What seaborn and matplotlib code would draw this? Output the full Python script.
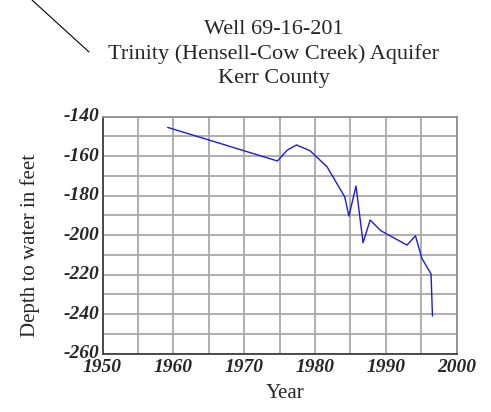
import matplotlib
matplotlib.use("Agg")
import matplotlib.pyplot as plt
import matplotlib.transforms as mtransforms
import seaborn as sns
import pandas as pd
from matplotlib.lines import Line2D
from matplotlib.ticker import MultipleLocator, NullFormatter

years = [1959.2, 1974.7, 1976.1, 1977.4, 1979.3, 1981.7, 1984.2, 1984.8, 1985.8,
         1986.8, 1987.8, 1989.3, 1993.0, 1994.2, 1995.1, 1996.4, 1996.6]
depth = [-145.4, -162.4, -156.9, -154.3, -157.2, -165.3, -180.5, -190.3, -175.1,
         -203.8, -192.3, -197.7, -205.0, -200.3, -211.7, -219.6, -240.9]
x_ticks = [1950, 1960, 1970, 1980, 1990, 2000]
y_ticks = [-140, -160, -180, -200, -220, -240, -260]
title_lines = ["Well 69-16-201", "Trinity (Hensell-Cow Creek) Aquifer", "Kerr County"]

df = pd.DataFrame({"Year": years, "Depth": depth})

sns.set_style("white")
SERIF = "Liberation Serif"
plt.rcParams['font.family'] = [SERIF, 'DejaVu Serif']
plt.rcParams['axes.unicode_minus'] = False

fig = plt.figure(figsize=(4.91, 4.12), dpi=100)
ax = fig.add_axes([0.2088, 0.1415, 0.7210, 0.5752])

sns.lineplot(data=df, x="Year", y="Depth", ax=ax, color="#1c1cd8", linewidth=1.0,
             sort=False, estimator=None)

ax.set_xlim(1950, 2000)
ax.set_ylim(-260, -140)
ax.set_xticks(x_ticks)
ax.set_yticks(y_ticks)
ax.xaxis.set_major_formatter(NullFormatter())
ax.yaxis.set_major_formatter(NullFormatter())
ax.xaxis.set_minor_locator(MultipleLocator(5))
ax.yaxis.set_minor_locator(MultipleLocator(10))
ax.grid(True, which="both", color="#a8a8a8", linewidth=1.3)
ax.set_axisbelow(True)
ax.tick_params(axis="x", which="both", direction="out", length=3, width=1, color="#606060")
ax.tick_params(axis="y", which="both", length=0)

tick_style = dict(family=SERIF, style="italic", weight="bold", fontsize=14)
xtrans = mtransforms.offset_copy(ax.get_xaxis_transform(), fig=fig, x=0, y=-5, units="dots")
for v in x_ticks:
    ax.text(v, 0, str(v), transform=xtrans, ha="center", va="top", clip_on=False, **tick_style)
ytrans = mtransforms.offset_copy(ax.get_yaxis_transform(), fig=fig, x=-3, y=0, units="dots")
for v in y_ticks:
    ax.text(0, v, str(v), transform=ytrans, ha="right", va="center", clip_on=False, **tick_style)

for s in ["top", "right"]:
    ax.spines[s].set_color("#909090")
    ax.spines[s].set_linewidth(1.3)
for s in ["left", "bottom"]:
    ax.spines[s].set_color("#404040")
    ax.spines[s].set_linewidth(1.3)

ax.set_xlabel("")
ax.set_ylabel("")
plain = dict(family=SERIF, style="normal", weight="normal")
fig.text(285/491, 1 - 393/412, "Year", ha="center", va="center", fontsize=15, **plain)
fig.text(30/491, 1 - 245/412, "Depth to water in feet", ha="center", va="center",
         rotation=90, fontsize=15, **plain)

baselines = [34.3, 59.0, 83.0]
for t, yy in zip(title_lines, baselines):
    fig.text(273.5/491, 1 - yy/412, t, ha="center", va="baseline", fontsize=16, **plain)

fig.add_artist(Line2D([32/491, 89/491], [1.0, 1 - 52/412], color="black", linewidth=0.8))

fig.savefig("out.png", dpi=100)
